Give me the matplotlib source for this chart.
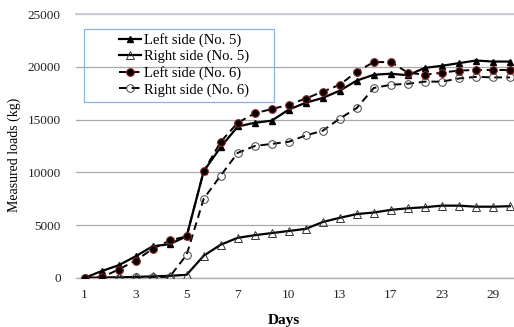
import matplotlib.pyplot as plt
from matplotlib.patches import Rectangle

# Category labels shown on the x axis (every third day-point)
tick_labels = ['1', '3', '5', '7', '10', '13', '17', '23', '29']

left5 = [0, 650, 1200, 2050, 3000, 3200, 3950, 10100, 12400, 14350, 14700, 14900, 15950,
         16600, 17050, 17750, 18700, 19250, 19350, 19200, 19900, 20100, 20350, 20600, 20500, 20500]
right5 = [0, 50, 50, 100, 150, 200, 300, 2100, 3150, 3800, 4050, 4250, 4450,
          4650, 5300, 5700, 6050, 6200, 6450, 6600, 6700, 6850, 6850, 6750, 6750, 6800]
left6 = [0, 50, 800, 1650, 2750, 3550, 3950, 10100, 12900, 14700, 15600, 16000, 16400,
         17000, 17650, 18300, 19550, 20450, 20450, 19450, 19250, 19450, 19650, 19700, 19700, 19700]
right6 = [0, 50, 0, 50, 100, 100, 2200, 7500, 9700, 11850, 12500, 12700, 12900,
          13500, 13950, 15100, 16100, 18000, 18300, 18400, 18600, 18600, 18900, 19050, 19000, 19000]

plt.rcParams['font.family'] = ['Liberation Serif', 'DejaVu Serif']

fig = plt.figure(figsize=(5.14, 3.27), dpi=100)
ax = fig.add_axes([0.148, 0.15, 0.852, 0.807])

x = list(range(len(left5)))
dash = (0, (4, 2.5))

ax.plot(x, left5, color='black', lw=1.6, marker='^', ms=5, mfc='black', mec='black',
        label='Left side (No. 5)', zorder=4)
ax.plot(x, right5, color='black', lw=1.6, marker='^', ms=6, mfc='none', mec='#333333',
        mew=0.7, label='Right side (No. 5)', zorder=3)
ax.plot(x, left6, color='black', lw=1.4, ls=dash, marker='o', ms=5.5, mfc='black',
        mec='#8b2020', mew=0.8, label='Left side (No. 6)', zorder=5)
ax.plot(x, right6, color='black', lw=1.4, ls=dash, marker='o', ms=5.5, mfc='none',
        mec='#444444', mew=0.7, label='Right side (No. 6)', zorder=3)

ax.set_xlim(-0.5, 25.24)
ax.set_ylim(0, 25000)
ax.set_yticks(range(0, 25001, 5000))
ax.set_xticks(range(0, 25, 3))
ax.set_xticklabels(tick_labels)
ax.tick_params(axis='both', length=0, labelsize=9.5, colors='#222222')
ax.tick_params(axis='y', pad=11)
ax.tick_params(axis='x', pad=8)

ax.grid(axis='y', color='#a8a8a8', lw=0.9)
ax.set_axisbelow(True)
for s in ['left', 'right']:
    ax.spines[s].set_visible(False)
ax.spines['top'].set_color('#cfc6e0')
ax.spines['top'].set_linewidth(1.4)
ax.spines['bottom'].set_color('#b0b0b0')
ax.spines['bottom'].set_linewidth(1.0)

ax.set_ylabel('Measured loads (kg)', fontsize=10)
ax.yaxis.set_label_coords(-0.126, 0.466)
ax.set_xlabel('Days', fontsize=11, fontweight='bold')
ax.xaxis.set_label_coords(0.475, -0.138)

# legend box drawn separately so the entries can sit right of its left edge
ax.add_patch(Rectangle((0.018, 0.667), 0.434, 0.276, transform=ax.transAxes,
                       fill=False, edgecolor='#8db3e2', lw=0.9, zorder=6))
leg = ax.legend(loc='upper left', bbox_to_anchor=(0.088, 0.945), fontsize=10.5,
                frameon=False, handlelength=1.5, handletextpad=0.2, labelspacing=0.2,
                borderaxespad=0, borderpad=0.3)

fig.savefig('out.png', dpi=100)
